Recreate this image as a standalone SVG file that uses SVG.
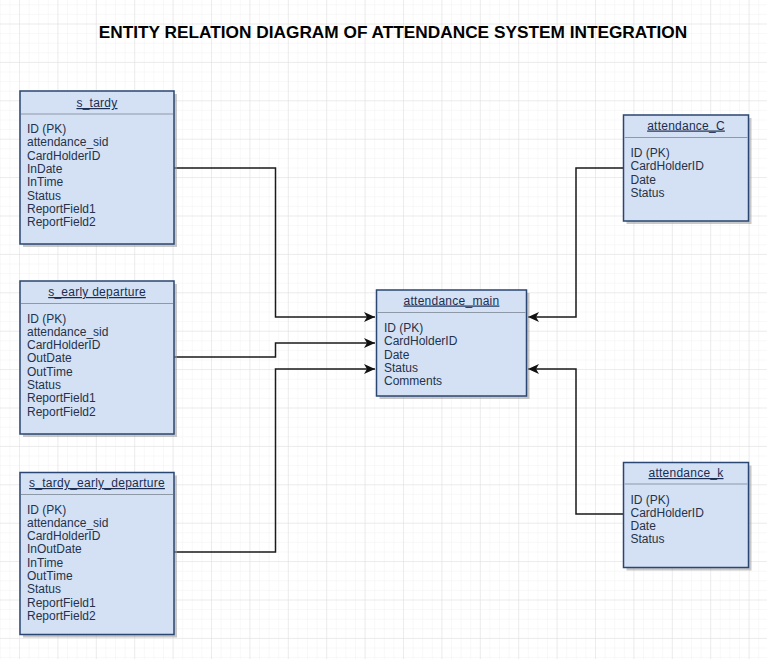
<svg xmlns="http://www.w3.org/2000/svg" width="767" height="659" viewBox="0 0 767 659">
<style>
.box{fill:#d4e1f5;stroke:#2a4672;stroke-width:1.5}
.shadow{fill:#9a9a9a;opacity:0.55}
.sep{stroke:#8e99a8;stroke-width:1}
.hdr{font-family:"Liberation Sans",Arial,sans-serif;font-size:12px;fill:#1a2e52;text-anchor:middle;text-decoration:underline;letter-spacing:0.25px}
.fld{font-family:"Liberation Sans",Arial,sans-serif;font-size:12px;fill:#25324a}
.title{font-family:"Liberation Sans",Arial,sans-serif;font-size:17.25px;font-weight:bold;fill:#000;text-anchor:middle}
.conn{fill:none;stroke:#1a1a1a;stroke-width:1.5}
</style>
<defs>
<pattern id="minor" x="19" y="23.5" width="9.6" height="9.6" patternUnits="userSpaceOnUse">
<path d="M0 0H9.6M0 0V9.6" fill="none" stroke="#f1f1f1" stroke-width="1"/>
</pattern>
<pattern id="major" x="19" y="23.5" width="38.4" height="38.4" patternUnits="userSpaceOnUse">
<path d="M0 0H38.4M0 0V38.4" fill="none" stroke="#e0e0e0" stroke-width="1"/>
</pattern>
<marker id="arr" markerWidth="12" markerHeight="10" refX="11" refY="5" orient="auto" markerUnits="userSpaceOnUse">
<path d="M0 0L11 5L0 10L3 5Z" fill="#111"/>
</marker>
</defs>
<rect width="767" height="659" fill="#fff"/>
<rect width="767" height="659" fill="url(#minor)"/>
<rect width="767" height="659" fill="url(#major)"/>

<text class="title" x="393" y="38">ENTITY RELATION DIAGRAM OF ATTENDANCE SYSTEM INTEGRATION</text>

<g id="connectors">
<path class="conn" d="M174 168H275.5V317H375" marker-end="url(#arr)"/>
<path class="conn" d="M174 357H275.5V343H375" marker-end="url(#arr)"/>
<path class="conn" d="M174 552H275.5V369H375" marker-end="url(#arr)"/>
<path class="conn" d="M623 168H576V317H528" marker-end="url(#arr)"/>
<path class="conn" d="M623 514H576V369H528" marker-end="url(#arr)"/>
</g>

<g id="s_tardy">
<rect class="shadow" x="23" y="94" width="154" height="153"/>
<rect class="box" x="20" y="91" width="154" height="153"/>
<line class="sep" x1="21" y1="114" x2="173" y2="114"/>
<text class="hdr" x="97" y="107">s_tardy</text>
<text class="fld" x="27" y="133">ID (PK)</text>
<text class="fld" x="27" y="146.3">attendance_sid</text>
<text class="fld" x="27" y="159.6">CardHolderID</text>
<text class="fld" x="27" y="172.9">InDate</text>
<text class="fld" x="27" y="186.2">InTime</text>
<text class="fld" x="27" y="199.5">Status</text>
<text class="fld" x="27" y="212.8">ReportField1</text>
<text class="fld" x="27" y="226.1">ReportField2</text>
</g>

<g id="s_early_departure">
<rect class="shadow" x="23" y="284" width="154" height="153"/>
<rect class="box" x="20" y="281" width="154" height="153"/>
<line class="sep" x1="21" y1="303.5" x2="173" y2="303.5"/>
<text class="hdr" x="97" y="296">s_early departure</text>
<text class="fld" x="27" y="322.5">ID (PK)</text>
<text class="fld" x="27" y="335.8">attendance_sid</text>
<text class="fld" x="27" y="349.1">CardHolderID</text>
<text class="fld" x="27" y="362.4">OutDate</text>
<text class="fld" x="27" y="375.7">OutTime</text>
<text class="fld" x="27" y="389">Status</text>
<text class="fld" x="27" y="402.3">ReportField1</text>
<text class="fld" x="27" y="415.6">ReportField2</text>
</g>

<g id="s_tardy_early_departure">
<rect class="shadow" x="23" y="475.5" width="154" height="162"/>
<rect class="box" x="20" y="472.5" width="154" height="162"/>
<line class="sep" x1="21" y1="494.5" x2="173" y2="494.5"/>
<text class="hdr" x="97" y="487">s_tardy_early_departure</text>
<text class="fld" x="27" y="513.5">ID (PK)</text>
<text class="fld" x="27" y="526.8">attendance_sid</text>
<text class="fld" x="27" y="540.1">CardHolderID</text>
<text class="fld" x="27" y="553.4">InOutDate</text>
<text class="fld" x="27" y="566.7">InTime</text>
<text class="fld" x="27" y="580">OutTime</text>
<text class="fld" x="27" y="593.3">Status</text>
<text class="fld" x="27" y="606.6">ReportField1</text>
<text class="fld" x="27" y="619.9">ReportField2</text>
</g>

<g id="attendance_main">
<rect class="shadow" x="379.5" y="293" width="150" height="106"/>
<rect class="box" x="376.5" y="290" width="150" height="106"/>
<line class="sep" x1="377.5" y1="312.5" x2="525.5" y2="312.5"/>
<text class="hdr" x="451.5" y="304.5">attendance_main</text>
<text class="fld" x="384" y="332">ID (PK)</text>
<text class="fld" x="384" y="345.3">CardHolderID</text>
<text class="fld" x="384" y="358.6">Date</text>
<text class="fld" x="384" y="371.9">Status</text>
<text class="fld" x="384" y="385.2">Comments</text>
</g>

<g id="attendance_C">
<rect class="shadow" x="626.5" y="118" width="125" height="106"/>
<rect class="box" x="623.5" y="115" width="125" height="106"/>
<line class="sep" x1="624.5" y1="137.5" x2="747.5" y2="137.5"/>
<text class="hdr" x="686" y="129.5">attendance_C</text>
<text class="fld" x="630.5" y="157">ID (PK)</text>
<text class="fld" x="630.5" y="170.3">CardHolderID</text>
<text class="fld" x="630.5" y="183.6">Date</text>
<text class="fld" x="630.5" y="196.9">Status</text>
</g>

<g id="attendance_k">
<rect class="shadow" x="626.5" y="465.5" width="125" height="105"/>
<rect class="box" x="623.5" y="462.5" width="125" height="105"/>
<line class="sep" x1="624.5" y1="484" x2="747.5" y2="484"/>
<text class="hdr" x="686" y="477">attendance_k</text>
<text class="fld" x="630.5" y="503.5">ID (PK)</text>
<text class="fld" x="630.5" y="516.8">CardHolderID</text>
<text class="fld" x="630.5" y="530.1">Date</text>
<text class="fld" x="630.5" y="543.4">Status</text>
</g>
</svg>
